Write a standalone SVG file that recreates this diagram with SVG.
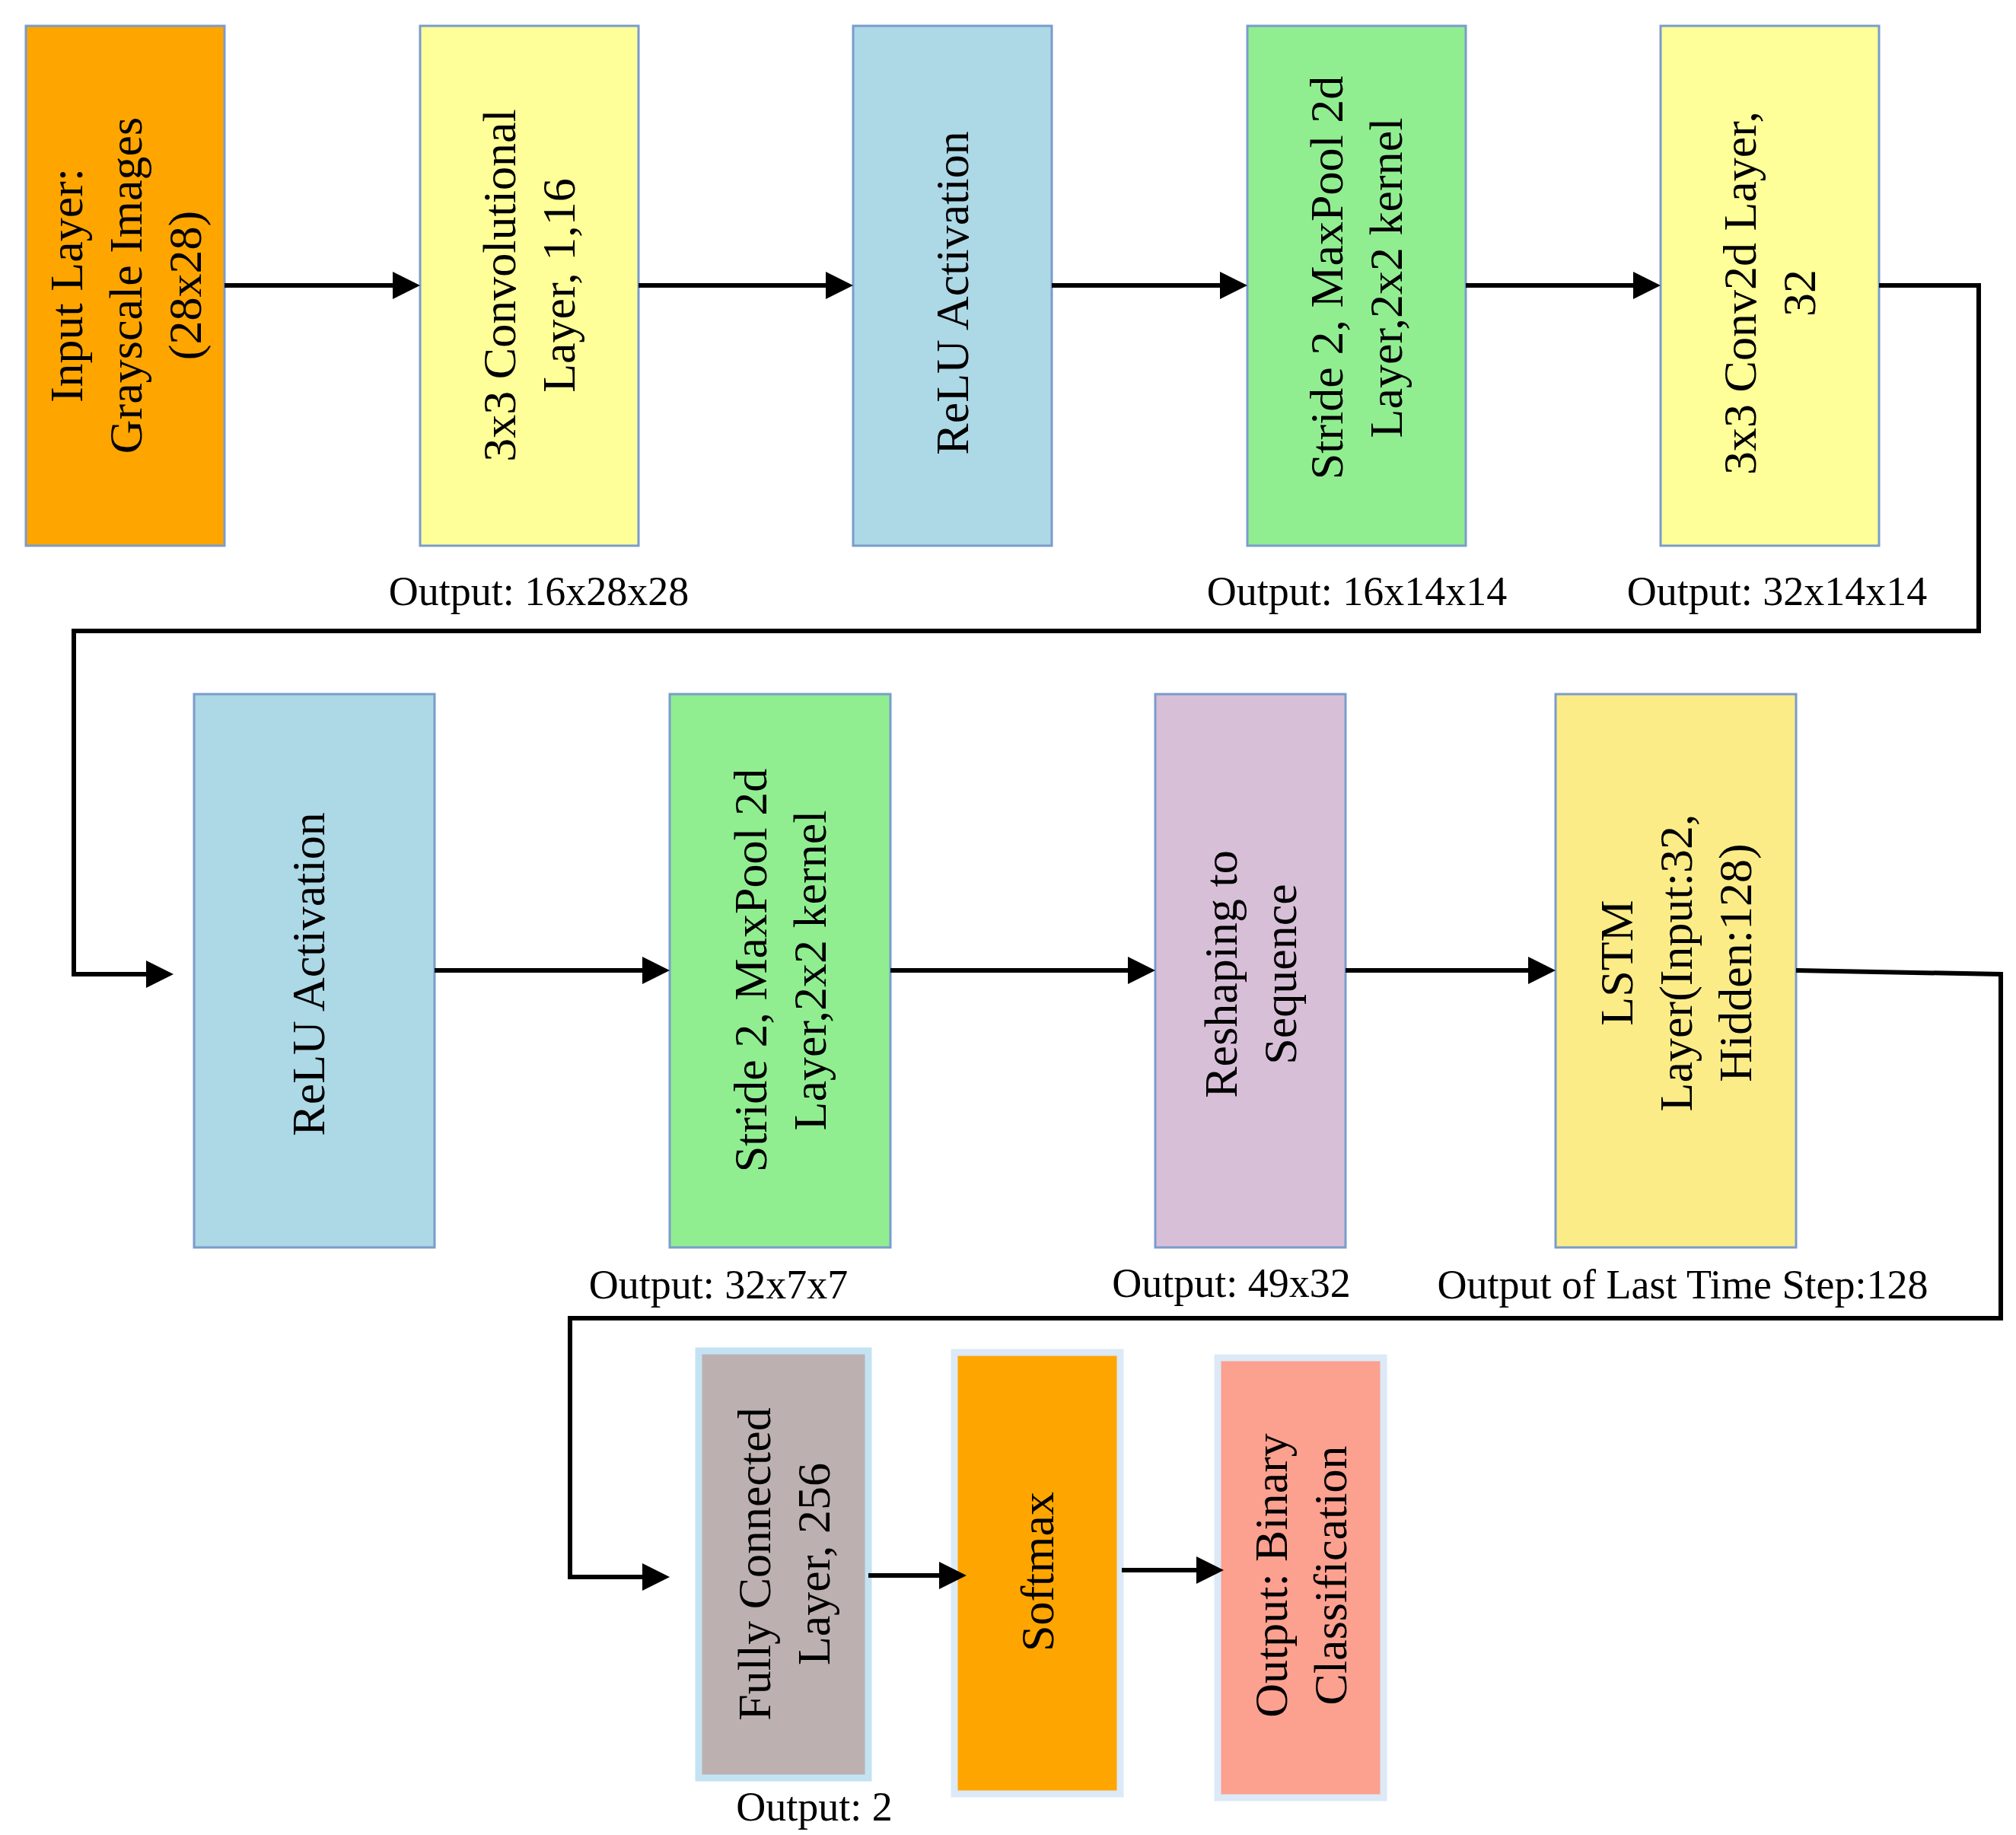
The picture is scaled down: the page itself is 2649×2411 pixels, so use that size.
<svg xmlns="http://www.w3.org/2000/svg" width="2649" height="2411" viewBox="0 0 2649 2411">
<style>
.b{stroke:#7A9CCB;stroke-width:3}
.c{stroke-width:9}
.t{font-family:"Liberation Serif",serif;font-size:62px;fill:#000;text-anchor:middle;dominant-baseline:central}
.o{font-family:"Liberation Serif",serif;font-size:54px;fill:#000;text-anchor:middle}
.l{fill:none;stroke:#000;stroke-width:6}
</style>
<defs>
<marker id="a" markerWidth="6" markerHeight="6" refX="5" refY="3" orient="auto" markerUnits="strokeWidth"><path d="M0,0 L6,3 L0,6 Z" fill="#000"/></marker>
</defs>
<rect width="2649" height="2411" fill="#fff"/>
<g id="input"><rect class="b" x="34" y="34" width="261" height="683" fill="#FFA500"/>
<text class="t" transform="translate(165,375) rotate(-90)"><tspan x="0" dy="-78">Input Layer:</tspan><tspan x="0" dy="78">Grayscale Images</tspan><tspan x="0" dy="78">(28x28)</tspan></text></g>
<g id="conv1"><rect class="b" x="552" y="34" width="287" height="683" fill="#FFFF99"/>
<text class="t" transform="translate(695,375) rotate(-90)"><tspan x="0" dy="-39">3x3 Convolutional</tspan><tspan x="0" dy="78">Layer, 1,16</tspan></text></g>
<g id="relu1"><rect class="b" x="1121" y="34" width="261" height="683" fill="#ADD8E6"/>
<text class="t" transform="translate(1251,385) rotate(-90)">ReLU Activation</text></g>
<g id="pool1"><rect class="b" x="1639" y="34" width="287" height="683" fill="#90EE90"/>
<text class="t" transform="translate(1782,365) rotate(-90)"><tspan x="0" dy="-39">Stride 2, MaxPool 2d</tspan><tspan x="0" dy="78">Layer,2x2 kernel</tspan></text></g>
<g id="conv2"><rect class="b" x="2182" y="34" width="287" height="683" fill="#FFFF99"/>
<text class="t" transform="translate(2325,385) rotate(-90)"><tspan x="0" dy="-39">3x3 Conv2d Layer,</tspan><tspan x="0" dy="78">32</tspan></text></g>
<g id="relu2"><rect class="b" x="255" y="912" width="316" height="727" fill="#ADD8E6"/>
<text class="t" transform="translate(405,1280) rotate(-90)">ReLU Activation</text></g>
<g id="pool2"><rect class="b" x="880" y="912" width="290" height="727" fill="#90EE90"/>
<text class="t" transform="translate(1025,1275) rotate(-90)"><tspan x="0" dy="-39">Stride 2, MaxPool 2d</tspan><tspan x="0" dy="78">Layer,2x2 kernel</tspan></text></g>
<g id="reshape"><rect class="b" x="1518" y="912" width="250" height="727" fill="#D8BFD8"/>
<text class="t" transform="translate(1643,1280) rotate(-90)"><tspan x="0" dy="-39">Reshaping to</tspan><tspan x="0" dy="78">Sequence</tspan></text></g>
<g id="lstm"><rect class="b" x="2044" y="912" width="316" height="727" fill="#FBEC88"/>
<text class="t" transform="translate(2202,1265) rotate(-90)"><tspan x="0" dy="-78">LSTM</tspan><tspan x="0" dy="78">Layer(Input:32,</tspan><tspan x="0" dy="78">Hidden:128)</tspan></text></g>
<g id="fc"><rect class="c" x="918" y="1775" width="223" height="561" fill="#BCB0B0" stroke="#C3E3F2"/>
<text class="t" transform="translate(1030,2055) rotate(-90)"><tspan x="0" dy="-39">Fully Connected</tspan><tspan x="0" dy="78">Layer, 256</tspan></text></g>
<g id="softmax"><rect class="c" x="1254" y="1777" width="218" height="580" fill="#FFA500" stroke="#DCE9F6"/>
<text class="t" transform="translate(1363,2065) rotate(-90)">Softmax</text></g>
<g id="output"><rect class="c" x="1600" y="1784" width="218" height="578" fill="#FCA08F" stroke="#DCE9F6"/>
<text class="t" transform="translate(1709,2070) rotate(-90)"><tspan x="0" dy="-39">Output: Binary</tspan><tspan x="0" dy="78">Classification</tspan></text></g>
<g id="labels">
<text class="o" x="708" y="795">Output: 16x28x28</text>
<text class="o" x="1783" y="795">Output: 16x14x14</text>
<text class="o" x="2335" y="795">Output: 32x14x14</text>
<text class="o" x="944" y="1706">Output: 32x7x7</text>
<text class="o" x="1618" y="1704">Output: 49x32</text>
<text class="o" x="2211" y="1706">Output of Last Time Step:128</text>
<text class="o" x="1070" y="2392">Output: 2</text>
</g>
<g id="connectors">
<line class="l" x1="295" y1="375" x2="546" y2="375" marker-end="url(#a)"/>
<line class="l" x1="839" y1="375" x2="1115" y2="375" marker-end="url(#a)"/>
<line class="l" x1="1382" y1="375" x2="1633" y2="375" marker-end="url(#a)"/>
<line class="l" x1="1926" y1="375" x2="2176" y2="375" marker-end="url(#a)"/>
<polyline class="l" points="2469,375 2600,375 2600,829 97,829 97,1280 222,1280" marker-end="url(#a)"/>
<line class="l" x1="571" y1="1275" x2="874" y2="1275" marker-end="url(#a)"/>
<line class="l" x1="1170" y1="1275" x2="1512" y2="1275" marker-end="url(#a)"/>
<line class="l" x1="1768" y1="1275" x2="2038" y2="1275" marker-end="url(#a)"/>
<polyline class="l" points="2360,1275 2629,1280 2629,1732 749,1732 749,2072 874,2072" marker-end="url(#a)"/>
<line class="l" x1="1141" y1="2070" x2="1264" y2="2070" marker-end="url(#a)"/>
<line class="l" x1="1474" y1="2063" x2="1602" y2="2063" marker-end="url(#a)"/>
</g>
</svg>
